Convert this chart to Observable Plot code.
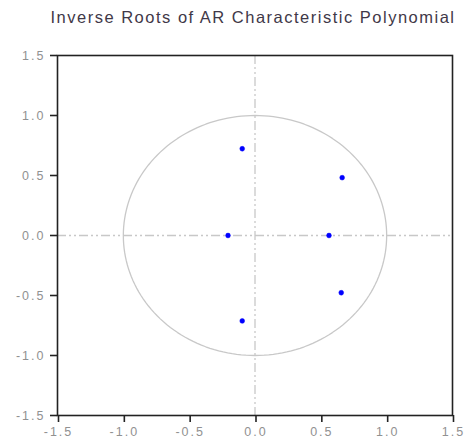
<!DOCTYPE html>
<html><head><meta charset="utf-8">
<script src="https://cdn.jsdelivr.net/npm/d3@7"></script>
<script src="https://cdn.jsdelivr.net/npm/@observablehq/plot@0.6"></script>
<style>
body{margin:0;background:#fff}
g[aria-label="x-axis tick label"] text, g[aria-label="y-axis tick label"] text {letter-spacing:2px}
g[aria-label="text"] text {letter-spacing:1.5px}
</style>
</head><body><div id="chart"></div>
<script>
const titleText = "Inverse Roots of AR Characteristic Polynomial";
const rootRe = [-0.097, -0.097, 0.662, 0.655, -0.205, 0.562];
const rootIm = [0.723, -0.712, 0.482, -0.477, 0.0, 0.0];
const tickValues = [-1.5, -1.0, -0.5, 0.0, 0.5, 1.0, 1.5];

const roots = rootRe.map((re, i) => ({re, im: rootIm[i]}));
// unit circle reference
const unitCircle = d3.range(0, 361, 2).map(a => ({x: Math.cos(a * Math.PI / 180), y: Math.sin(a * Math.PI / 180)}));

const fmt = d => d.toFixed(1);

const chart = Plot.plot({
  width: 472, height: 446,
  marginLeft: 57, marginRight: 20, marginTop: 55, marginBottom: 31,
  style: {fontFamily: "'Liberation Sans', Arial, sans-serif", background: "#fff"},
  x: {domain: [-1.5, 1.5]},
  y: {domain: [-1.5, 1.5]},
  marks: [
    Plot.ruleX([0], {stroke: "#c8c8c8", strokeWidth: 1.3, strokeDasharray: "9,3,2,3,2,3"}),
    Plot.ruleY([0], {stroke: "#c8c8c8", strokeWidth: 1.3, strokeDasharray: "9,3,2,3,2,3"}),
    Plot.line(unitCircle, {x: "x", y: "y", stroke: "#c8c8c8", strokeWidth: 1.3}),
    Plot.dot(roots, {x: "re", y: "im", r: 2.4, fill: "#0000ff", stroke: "#0000ff", strokeWidth: 0.5}),
    Plot.frame({stroke: "#222", strokeWidth: 1.6}),
    Plot.axisX({ticks: tickValues, tickFormat: fmt, tickSize: 7, tickPadding: 5, dx: 1, stroke: "#222", strokeWidth: 1.6, color: "#919191", fontSize: 12.5, label: null}),
    Plot.axisY({ticks: tickValues, tickFormat: fmt, tickSize: 7, tickPadding: 5, stroke: "#222", strokeWidth: 1.6, color: "#919191", fontSize: 12.5, label: null}),
    Plot.text([titleText], {frameAnchor: "top", dy: -38, dx: -2, fontSize: 16.5, fill: "#3f3848", text: d => d, lineAnchor: "middle"})
  ]
});
document.getElementById("chart").appendChild(chart);
</script>
</body></html>
